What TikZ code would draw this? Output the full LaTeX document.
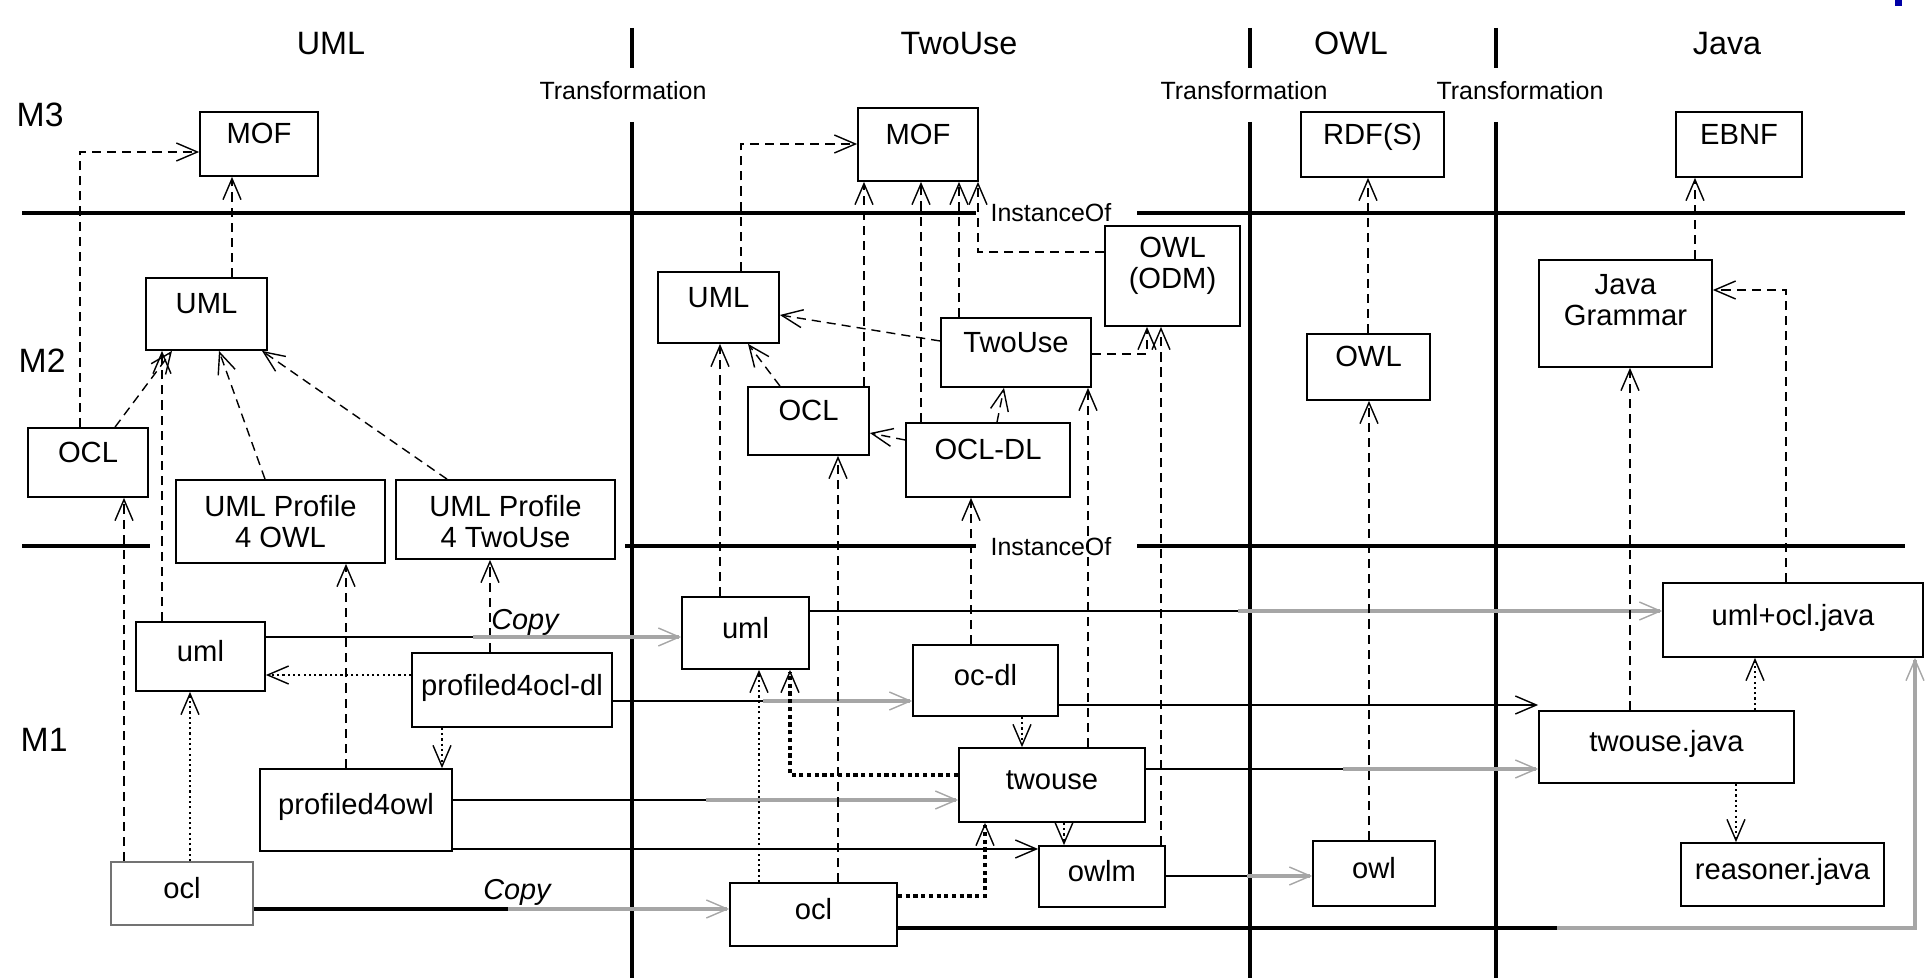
\documentclass[tikz,border=0pt]{standalone}
\usepackage{fontspec}
\setmainfont{Liberation Sans}
\usetikzlibrary{arrows.meta}

\begin{document}
\begin{tikzpicture}[x=0.1mm,y=-0.1mm,
    wh/.style 2 args={minimum width=#1*0.1mm,minimum height=#2*0.1mm},
    box/.style={draw,line width=0.5pt,inner sep=0pt,font=\fontsize{8.3}{8.8}\selectfont,
      text height=2.3mm,text depth=2.3mm},
    mone/.style={box,text height=2.8mm,text depth=1.8mm},
    sep/.style={line width=1.1pt},
    head/.style={font=\fontsize{9.2}{10}\selectfont,anchor=base,inner sep=0pt},
    level/.style={font=\fontsize{9.6}{10}\selectfont,anchor=base west,inner sep=0pt},
    small/.style={font=\fontsize{7.1}{8}\selectfont,anchor=base,inner sep=0pt},
    copylab/.style={font=\fontsize{8.2}{9}\selectfont\itshape,anchor=base,inner sep=0pt},
    tip/.style={-{Straight Barb[length=2.1mm,width=1.8mm,line width=0.4pt]}},
    inst/.style={tip,line width=0.4pt,dash pattern=on 2.6pt off 1.7pt},
    dep/.style={tip,line width=0.4pt,dash pattern=on 0.6pt off 0.9pt},
    bigdep/.style={tip,line width=1.3pt,dash pattern=on 1.2pt off 1pt},
    flow/.style={tip,line width=0.5pt},
    gflow/.style={tip,line width=0.9pt,draw=black!35}]
  \useasboundingbox (0,0) rectangle (1925,978);

  % columns and levels
  \draw[sep] (22,213) -- (976,213);
  \draw[sep] (1137,213) -- (1905,213);
  \draw[sep] (22,546) -- (150,546);
  \draw[sep] (625,546) -- (976,546);
  \draw[sep] (1137,546) -- (1905,546);
  \foreach \x in {632,1250,1496} {
    \draw[sep] (\x,28) -- (\x,68);
    \draw[sep] (\x,122) -- (\x,978);
  }
  \fill[blue!65!black] (1895,0) rectangle (1902,6);

  \node[head] (hUML) at (331,55) {UML};
  \node[head] (hTwoUse) at (959,55) {TwoUse};
  \node[head] (hOWL) at (1351,55) {OWL};
  \node[head] (hJava) at (1727,55) {Java};
  \node[small] (tr1) at (623,100) {Transformation};
  \node[small] (tr2) at (1244,100) {Transformation};
  \node[small] (tr3) at (1520,100) {Transformation};
  \node[small] (io1) at (1051,222) {InstanceOf};
  \node[small] (io2) at (1051,555) {InstanceOf};
  \node[level] (m3) at (16,127) {M3};
  \node[level] (m2) at (18,373) {M2};
  \node[level] (m1) at (20,752) {M1};

  % UML
  \node[box,wh={118}{64}] (mofA) at (259,144) {MOF};
  \node[box,wh={121}{72}] (umlA) at (206.5,314) {UML};
  \node[box,wh={120}{69}] (oclA) at (88,462.5) {OCL};
  \node[box,wh={209}{83},text depth=3.2mm] (profowlA) at (280.5,521.5)
    {\begin{tabular}[t]{@{}c@{}}UML Profile\\4 OWL\end{tabular}};
  \node[box,wh={219}{79},text depth=2.8mm] (proftuA) at (505.5,519.5)
    {\begin{tabular}[t]{@{}c@{}}UML Profile\\4 TwoUse\end{tabular}};
  \node[mone,wh={129}{69}] (umlM) at (200.5,656.5) {uml};
  \node[mone,wh={200}{74}] (pocdl) at (512,690) {profiled4ocl-dl};
  \node[mone,wh={192}{82}] (powl) at (356,810) {profiled4owl};
  \node[mone,wh={142}{63},draw=black!55] (oclM) at (182,893.5) {ocl};

  % TwoUse
  \node[box,wh={120}{73}] (mofB) at (918,144.5) {MOF};
  \node[box,wh={121}{71}] (umlB) at (718.5,307.5) {UML};
  \node[box,wh={150}{69}] (twouseB) at (1016,352.5) {TwoUse};
  \node[box,wh={135}{100},text depth=5.9mm] (odmB) at (1172.5,276)
    {\begin{tabular}[t]{@{}c@{}}OWL\\(ODM)\end{tabular}};
  \node[box,wh={121}{68}] (oclB) at (808.5,421) {OCL};
  \node[box,wh={164}{74}] (ocldlB) at (988,460) {OCL-DL};
  \node[mone,wh={127}{72}] (umlT) at (745.5,633) {uml};
  \node[mone,wh={145}{71}] (ocdlT) at (985.5,680.5) {oc-dl};
  \node[mone,wh={186}{74}] (twouseT) at (1052,785) {twouse};
  \node[mone,wh={126}{61}] (owlmT) at (1102,876.5) {owlm};
  \node[mone,wh={167}{63}] (oclT) at (813.5,914.5) {ocl};

  % OWL
  \node[box,wh={143}{65}] (rdfsC) at (1372.5,144.5) {RDF(S)};
  \node[box,wh={123}{66}] (owlC) at (1368.5,367) {OWL};
  \node[mone,wh={122}{65}] (owlO) at (1374,873.5) {owl};

  % Java
  \node[box,wh={126}{65}] (ebnfJ) at (1739,144.5) {EBNF};
  \node[box,wh={173}{107},text depth=6mm] (grammarJ) at (1625.5,313.5)
    {\begin{tabular}[t]{@{}c@{}}Java\\Grammar\end{tabular}};
  \node[mone,wh={260}{74}] (umlocljava) at (1793,620) {uml+ocl.java};
  \node[mone,wh={255}{72}] (twousejava) at (1666.5,747) {twouse.java};
  \node[mone,wh={203}{63}] (reasonerjava) at (1782.5,874.5) {reasoner.java};

  % instanceOf, UML
  \draw[inst] (oclA.north -| 80,0) |- (mofA.west |- 0,152);
  \draw[inst] (umlA.north -| 232,0) -- (mofA.south -| 232,0);
  \draw[inst] (oclA.north -| 115,0) -- (umlA.south -| 172,0);
  \draw[inst] (umlM.north -| 162,0) -- (umlA.south -| 162,0);
  \draw[inst] (profowlA.north -| 265,0) -- (umlA.south -| 219,0);
  \draw[inst] (proftuA.north -| 447,0) -- (umlA.south -| 262,0);
  \draw[inst] (oclM.north -| 124,0) -- (oclA.south -| 124,0);
  \draw[inst] (powl.north -| 346,0) -- (profowlA.south -| 346,0);
  \draw[inst] (pocdl.north -| 490,0) -- (proftuA.south -| 490,0);
  \draw[dep] (oclM.north -| 190,0) -- (umlM.south -| 190,0);
  \draw[dep] (pocdl.west |- 0,675) -- (umlM.east |- 0,675);
  \draw[dep] (pocdl.south -| 442,0) -- (powl.north -| 442,0);

  % copies and transformations
  \coordinate (cpA) at (473,637);
  \draw[line width=0.5pt] (umlM.east |- cpA) -- (cpA);
  \draw[gflow] (cpA) -- (umlT.west |- cpA);
  \node[copylab] (copyA) at (525,630) {Copy};
  \coordinate (cpB) at (508,909);
  \draw[sep] (oclM.east |- cpB) -- (cpB);
  \draw[gflow] (cpB) -- (oclT.west |- cpB);
  \node[copylab] (copyB) at (517,900) {Copy};
  \coordinate (tfA) at (763,701);
  \draw[line width=0.5pt] (pocdl.east |- tfA) -- (tfA);
  \draw[gflow] (tfA) -- (ocdlT.west |- tfA);
  \coordinate (tfB) at (706,800);
  \draw[line width=0.5pt] (powl.east |- tfB) -- (tfB);
  \draw[gflow] (tfB) -- (twouseT.west |- tfB);
  \draw[flow] (powl.east |- 0,849) -- (owlmT.west |- 0,849);

  % instanceOf, TwoUse
  \draw[inst] (umlB.north -| 741,0) |- (mofB.west |- 0,144);
  \draw[inst] (oclB.north -| 864,0) -- (mofB.south -| 864,0);
  \draw[inst] (ocldlB.north -| 921,0) -- (mofB.south -| 921,0);
  \draw[inst] (twouseB.north -| 959,0) -- (mofB.south -| 959,0);
  \draw[inst] (odmB.west |- 0,252) -| (mofB.south -| 978,0);
  \draw[inst] (twouseB.west |- 0,341) -- (umlB.east |- 0,315);
  \draw[inst] (oclB.north -| 780,0) -- (umlB.south -| 748,0);
  \draw[inst] (umlT.north -| 720,0) -- (umlB.south -| 720,0);
  \draw[inst] (ocldlB.west |- 0,440) -- (oclB.east |- 0,433);
  \draw[inst] (ocldlB.north -| 997,0) -- (twouseB.south -| 1004,0);
  \draw[inst] (twouseT.north -| 1088,0) -- (twouseB.south -| 1088,0);
  \draw[inst] (twouseB.east |- 0,354) -| (odmB.south -| 1147,0);
  \draw[inst] (owlmT.north -| 1161,0) -- (odmB.south -| 1161,0);
  \draw[inst] (oclT.north -| 838,0) -- (oclB.south -| 838,0);
  \draw[inst] (ocdlT.north -| 971,0) -- (ocldlB.south -| 971,0);
  \draw[dep] (oclT.north -| 759,0) -- (umlT.south -| 759,0);
  \draw[bigdep] (twouseT.west |- 0,775) -| (umlT.south -| 790,0);
  \draw[dep] (ocdlT.south -| 1022,0) -- (twouseT.north -| 1022,0);
  \draw[dep] (twouseT.south -| 1064,0) -- (owlmT.north -| 1064,0);
  \draw[bigdep] (oclT.east |- 0,896) -| (twouseT.south -| 985,0);

  % to OWL and Java
  \coordinate (tfC) at (1238,611);
  \draw[line width=0.5pt] (umlT.east |- tfC) -- (tfC);
  \draw[gflow] (tfC) -- (umlocljava.west |- tfC);
  \draw[flow] (ocdlT.east |- 0,705) -- (twousejava.west |- 0,705);
  \coordinate (tfD) at (1343,769);
  \draw[line width=0.5pt] (twouseT.east |- tfD) -- (tfD);
  \draw[gflow] (tfD) -- (twousejava.west |- tfD);
  \coordinate (tfE) at (1247,876);
  \draw[line width=0.5pt] (owlmT.east |- tfE) -- (tfE);
  \draw[gflow] (tfE) -- (owlO.west |- tfE);
  \coordinate (tfF) at (1557,928);
  \coordinate (tfG) at (1915,928);
  \draw[sep] (oclT.east |- tfF) -- (tfF);
  \draw[gflow] (tfF) -- (tfG) -- (umlocljava.south -| tfG);

  % instanceOf, OWL and Java
  \draw[inst] (owlC.north -| 1368,0) -- (rdfsC.south -| 1368,0);
  \draw[inst] (owlO.north -| 1369,0) -- (owlC.south -| 1369,0);
  \draw[inst] (grammarJ.north -| 1695,0) -- (ebnfJ.south -| 1695,0);
  \draw[inst] (umlocljava.north -| 1786,0) |- (grammarJ.east |- 0,290);
  \draw[inst] (twousejava.north -| 1630,0) -- (grammarJ.south -| 1630,0);
  \draw[dep] (twousejava.north -| 1755,0) -- (umlocljava.south -| 1755,0);
  \draw[dep] (twousejava.south -| 1736,0) -- (reasonerjava.north -| 1736,0);
\end{tikzpicture}
\end{document}
